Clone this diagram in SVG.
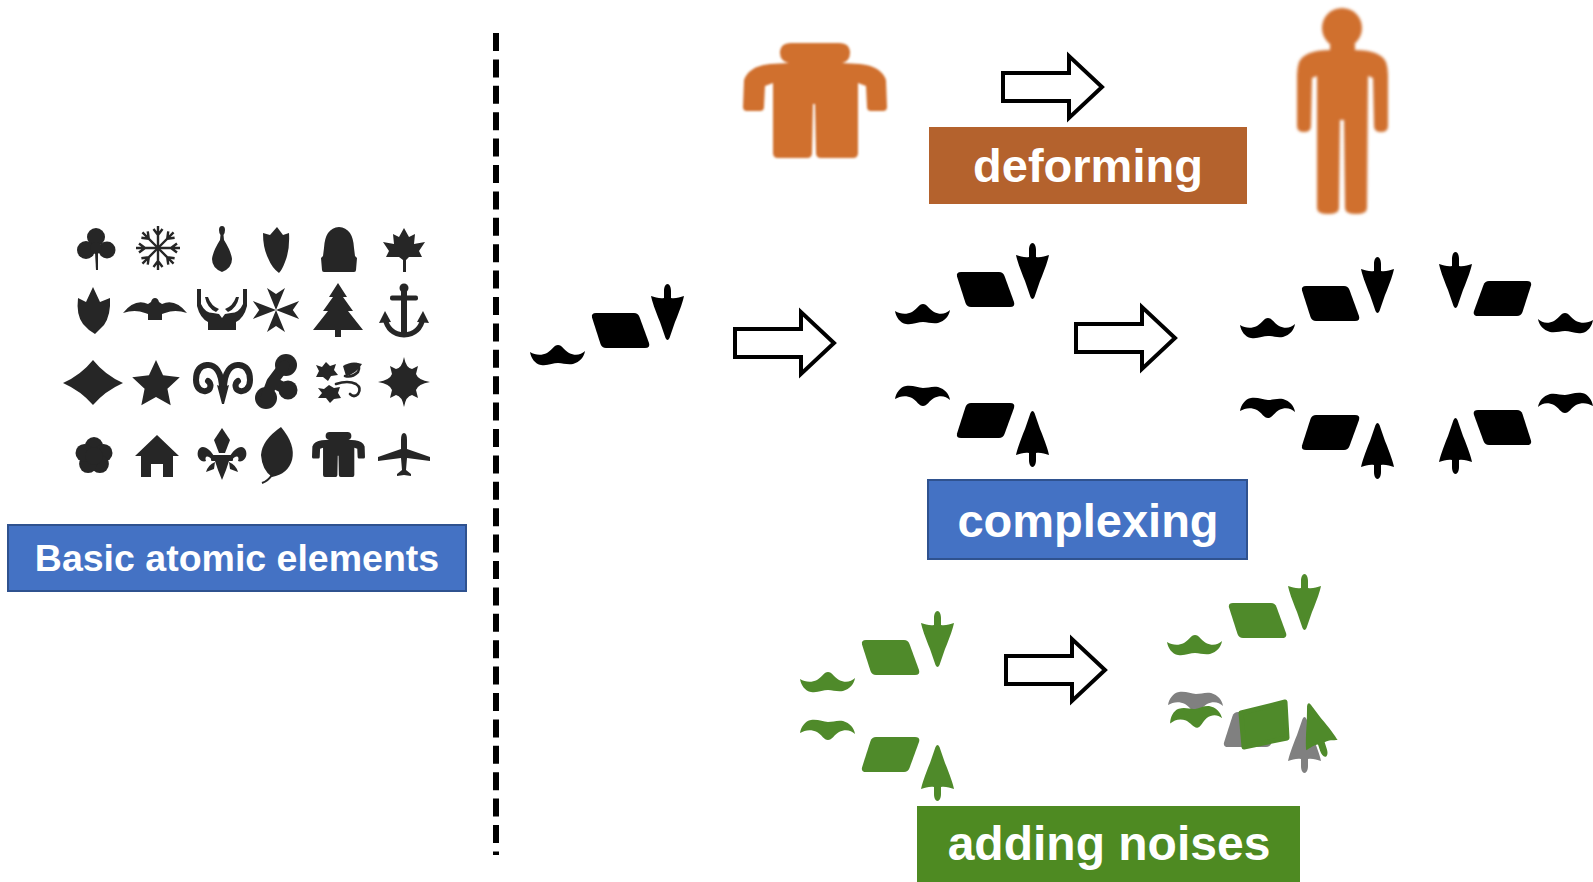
<svg xmlns="http://www.w3.org/2000/svg" xmlns:xlink="http://www.w3.org/1999/xlink" width="1593" height="882" viewBox="0 0 1593 882">
  <style>
    .lbl { font-family: "Liberation Sans", Arial, sans-serif; font-weight: bold; fill: #ffffff; text-anchor: middle; }
    .icon { fill: #262626; }
    .icon-line { fill: none; stroke: #262626; }
    .blk { fill: #ffffff; stroke: #000000; stroke-width: 4; stroke-linejoin: miter; }
    .ink { fill: #000000; }
    .leafy { fill: #4f8a2a; }
    .grey { fill: #808080; }
    .skin { fill: #d0702e; }
  </style>
  <defs>
    <filter id="soft" x="-20%" y="-20%" width="140%" height="140%">
      <feGaussianBlur stdDeviation="1.3"/>
    </filter>
    <filter id="softer" x="-20%" y="-20%" width="140%" height="140%">
      <feGaussianBlur stdDeviation="1.8"/>
    </filter>
    <!-- hollow block arrow, origin at the tail centre -->
    <path id="blkArrow" d="M0,-14 H66 V-31 L99,0 L66,31 V14 H0 Z"/>
    <!-- parts of the three-piece motif -->
    <path id="mst" d="M10,92 C15,95 21,96 27,93 C32,90 34,85 38,85 C42,85 44,90 49,93 C55,96 61,95 65,91 C64,97 60,102 53,104 C47,105 43,103 38,103 C33,103 28,106 21,105 C15,104 11,98 10,92 Z"/>
    <path id="para" d="M76,53 H114 Q118,53 119.5,57 L129,83 Q130.5,88 125,88 H86 Q82,88 80.5,84 L72,57.5 Q71,53 76,53 Z"/>
    <path id="arw" d="M147.5,24 C149.5,24 151,27 151,31 L151,38 C155,39 160,37 164,36 C163,41 160,50 155,62 L149.5,78 Q147.5,82 145.5,78 L140,62 C135,50 132,41 131,36 C135,37 140,39 144,38 L144,31 C144,27 145.5,24 147.5,24 Z"/>
    <g id="motif">
      <use xlink:href="#mst"/>
      <use xlink:href="#para"/>
      <use xlink:href="#arw"/>
    </g>
    <!-- stocky figure outline, reused for the jacket icon -->
    <path id="stocky" d="M791,43 H839 Q850,43 850,53 Q850,61 842,63 L860,64 Q881,66 886,80 L887,107 Q887,111 883,111 L871,111 Q867,111 867,107 L866,86 L858,83 L858,153 Q858,158 853,158 L821,158 Q816,158 816,153 L815,104 L813,104 L812,153 Q812,158 807,158 L778,158 Q773,158 773,153 L773,83 L765,86 L764,107 Q764,111 760,111 L747,111 Q743,111 743,107 L744,80 Q749,66 770,64 L789,63 Q780,61 780,53 Q780,43 791,43 Z"/>
    <path id="flakeArm" d="M0,0 L0,-22 M0,-13 L-4.5,-19 M0,-13 L4.5,-19"/>
    <path id="crossArm" d="M0,0 L-9,-22 L0,-16 L9,-22 Z"/>
  </defs>

  <rect width="1593" height="882" fill="#ffffff"/>

  <!-- separator -->
  <line id="divider" x1="496" y1="33" x2="496" y2="855" stroke="#000000" stroke-width="6" stroke-dasharray="18 8.4"/>

  <!-- catalogue of atomic shapes -->
  <g id="atomic-elements">
    <!-- row 1 -->
    <g id="clover" class="icon">
      <circle cx="96" cy="237" r="9"/>
      <circle cx="86" cy="250" r="9"/>
      <circle cx="107" cy="250" r="8.5"/>
      <circle cx="96" cy="248" r="6"/>
      <path d="M95,252 L98,252 L98,270 L96,270 Z"/>
    </g>
    <g id="snowflake" class="icon-line" stroke-width="2.4" transform="translate(158,248)">
      <use xlink:href="#flakeArm"/>
      <use xlink:href="#flakeArm" transform="rotate(45)"/>
      <use xlink:href="#flakeArm" transform="rotate(90)"/>
      <use xlink:href="#flakeArm" transform="rotate(135)"/>
      <use xlink:href="#flakeArm" transform="rotate(180)"/>
      <use xlink:href="#flakeArm" transform="rotate(225)"/>
      <use xlink:href="#flakeArm" transform="rotate(270)"/>
      <use xlink:href="#flakeArm" transform="rotate(315)"/>
    </g>
    <path id="pendant" class="icon" d="M222,226 Q225,226 225,230 Q225,233 223.5,235 L224,240 Q231,251 232,259 Q232,268 222,272 Q212,268 212,259 Q213,251 220,240 L220.5,235 Q219,233 219,230 Q219,226 222,226 Z"/>
    <path id="shield-leaf" class="icon" d="M277,227 L283,235 L289,233 Q290,250 285,262 Q282,270 279,273 Q272,268 268,258 Q263,248 263,233 L270,235 Z"/>
    <path id="bell" class="icon" d="M339,227 Q353,228 354,248 L355,256 L357,258 L356,270 Q356,272 354,272 L324,272 Q322,272 322,270 L321,258 L323,256 L324,248 Q325,228 339,227 Z"/>
    <polygon id="maple" class="icon" points="404,228 409,237 415,234 414,244 425,242 419,251 422,257 409,257 406,260 406,272 403,272 403,260 399,257 386,257 389,251 383,242 394,244 393,234 399,237"/>

    <!-- row 2 -->
    <path id="tulip-shield" class="icon" d="M78,298 L86,302 L93,287 L100,302 L110,298 Q111,315 104,325 Q99,330 95,334 Q88,330 83,324 Q76,315 78,298 Z"/>
    <path id="bird" class="icon" d="M155,298 Q158,298 159,302 L162,304 Q175,298 187,313 Q175,309 165,313 L162,314 L162,320 L148,320 L148,314 L145,313 Q135,309 123,313 Q135,298 148,304 L151,302 Q152,298 155,298 Z"/>
    <g id="hands" class="icon">
      <path d="M197,289 L201,289 L201,304 Q205,313 213,313 L219,314 L222,318 L225,314 L231,313 Q239,313 243,304 L243,289 L247,289 L247,306 Q244,318 236,322 L236,330 L208,330 L208,322 Q200,318 197,306 Z"/>
      <path d="M205,297 L208,297 Q211,306 219,309 L216,312 Q207,308 205,297 Z"/>
      <path d="M239,297 L236,297 Q233,306 225,309 L228,312 Q237,308 239,297 Z"/>
    </g>
    <g id="maltese-cross" class="icon" transform="translate(276,310)">
      <use xlink:href="#crossArm"/>
      <use xlink:href="#crossArm" transform="rotate(90) scale(1,1.05)"/>
      <use xlink:href="#crossArm" transform="rotate(180)"/>
      <use xlink:href="#crossArm" transform="rotate(270) scale(1,1.05)"/>
    </g>
    <polygon id="pine" class="icon" points="338,283 347,297 343,297 353,311 348,311 363,330 341,330 341,337 335,337 335,330 313,330 328,311 323,311 333,297 329,297"/>
    <g id="anchor" class="icon">
      <circle cx="404" cy="288" r="4.5"/>
      <rect x="390" y="295.5" width="28" height="5" rx="2"/>
      <rect x="401" y="288" width="6" height="45"/>
      <path d="M385,318 Q388,334 404,335 Q420,334 423,318" fill="none" stroke="#262626" stroke-width="5"/>
      <polygon points="379,323 385,311 391,322"/>
      <polygon points="429,323 423,311 417,322"/>
    </g>

    <!-- row 3 -->
    <path id="diamond" class="icon" d="M63,383 Q81,375 93,360 Q105,375 123,383 Q105,391 93,405 Q81,391 63,383 Z"/>
    <polygon id="star" class="icon" points="156,360 163.05,375.29 179.78,377.27 167.41,388.71 170.69,405.23 156,397 141.31,405.23 144.59,388.71 132.22,377.27 148.95,375.29"/>
    <g id="ram" class="icon">
      <path d="M222,389 C222,372 215,364 207,365 C198,366 196,373 196,380 C196,388 201,392 206,391 C211,390 212,384 208,381" fill="none" stroke="#262626" stroke-width="6" stroke-linecap="round"/>
      <path d="M224,389 C224,372 231,364 239,365 C248,366 250,373 250,380 C250,388 245,392 240,391 C235,390 234,384 238,381" fill="none" stroke="#262626" stroke-width="6" stroke-linecap="round"/>
      <path d="M217,385 Q223,388 229,385 L224,404 L222,404 Z"/>
    </g>
    <g id="triskele" class="icon">
      <circle cx="286" cy="365" r="11"/>
      <circle cx="288" cy="390" r="9.5"/>
      <circle cx="266" cy="398" r="11"/>
      <path d="M284,366 L272,382 L266,398 M272,382 L288,390" fill="none" stroke="#262626" stroke-width="11" stroke-linecap="round" stroke-linejoin="round"/>
    </g>
    <g id="ivy" class="icon">
      <polygon points="326,362 330,366 336,364 334,370 338,375 331,376 328,381 323,377 316,377 319,371 316,365 322,367"/>
      <polygon points="329,385 334,388 340,387 338,393 341,398 334,399 330,403 326,398 318,398 322,393 318,388 324,389"/>
      <path d="M343,366 Q352,360 362,364 Q356,374 346,376 Z"/>
      <path d="M336,384 Q348,380 356,384 Q362,388 358,394 Q354,398 350,394 M345,376 Q352,378 358,372 Q361,366 356,364" fill="none" stroke="#262626" stroke-width="2.6" stroke-linecap="round"/>
    </g>
    <path id="compass-star" class="icon" d="M404,357 Q406,368 412,369 L418,366 L416,374 Q418,380 430,382 Q418,384 416,390 L418,398 L412,395 Q406,396 404,407 Q402,396 396,395 L390,398 L392,390 Q390,384 378,382 Q390,380 392,374 L390,366 L396,369 Q402,368 404,357 Z"/>

    <!-- row 4 -->
    <g id="flower" class="icon">
      <circle cx="94" cy="446" r="9"/>
      <circle cx="103.5" cy="452.9" r="9"/>
      <circle cx="99.9" cy="464.1" r="9"/>
      <circle cx="88.1" cy="464.1" r="9"/>
      <circle cx="84.5" cy="452.9" r="9"/>
      <circle cx="94" cy="456" r="9"/>
    </g>
    <polygon id="house" class="icon" points="157,435 179,456 173,456 173,477 163,477 163,464 151,464 151,477 141,477 141,456 135,456"/>
    <g id="fleur-de-lis" class="icon">
      <path d="M222,428 L230,440 L225,453 L219,453 L214,440 Z"/>
      <path d="M215,458 C210,448 201,443 198,451 C196,458 202,463 206,461 C204,456 208,454 213,461 Z"/>
      <path d="M229,458 C234,448 243,443 246,451 C248,458 242,463 238,461 C240,456 236,454 231,461 Z"/>
      <rect x="211" y="455" width="22" height="6" rx="1"/>
      <path d="M215,461 L229,461 L226,470 L222,480 L218,470 Z"/>
      <path d="M215,462 Q208,465 206,472 L214,469 Z"/>
      <path d="M229,462 Q236,465 238,472 L230,469 Z"/>
    </g>
    <g id="leaf" class="icon">
      <path d="M281,427 Q296,445 292,460 Q288,474 272,477 Q262,470 261,455 Q262,440 281,427 Z"/>
      <path d="M272,475 Q268,481 262,483" fill="none" stroke="#262626" stroke-width="2.2"/>
    </g>
    <use id="jacket" xlink:href="#stocky" class="icon" transform="translate(312,432) scale(0.368,0.391) translate(-743,-43)"/>
    <path id="airplane" class="icon" d="M404,433 Q407,433 407,440 L407,449 L430,457 L430,461 L407,458 L406,470 L411,474 L411,476 L404,475 L397,476 L397,474 L402,470 L401,458 L378,461 L378,457 L401,449 L401,440 Q401,433 404,433 Z"/>
  </g>

  <!-- caption of the catalogue -->
  <g id="label-basic">
    <rect x="8" y="525" width="458" height="66" fill="#4472c4" stroke="#2f528f" stroke-width="2"/>
    <text class="lbl" x="237" y="571" font-size="37.5">Basic atomic elements</text>
  </g>

  <!-- deforming -->
  <g id="figure-stocky" class="skin" filter="url(#soft)">
    <use xlink:href="#stocky"/>
  </g>
  <g id="figure-tall" class="skin" filter="url(#softer)">
    <ellipse cx="1342" cy="28" rx="20" ry="20"/>
    <path d="M1330,44 L1330,50 Q1305,50 1299,62 Q1297,68 1297,75 L1297,126 Q1297,132 1304,132 Q1311,132 1311,126 L1312,78 L1317,76 L1317,208 Q1317,214 1328,214 Q1339,214 1339,208 L1340,120 L1344,120 L1345,208 Q1345,214 1356,214 Q1367,214 1367,208 L1368,76 L1373,78 L1374,126 Q1374,132 1381,132 Q1388,132 1388,126 L1388,75 Q1388,68 1386,62 Q1380,50 1355,50 L1355,44 Z"/>
  </g>
  <g id="label-deforming">
    <rect x="929" y="127" width="318" height="77" fill="#b4622d"/>
    <text class="lbl" x="1088" y="182" font-size="47">deforming</text>
  </g>

  <!-- complexing -->
  <g id="motif-single" class="ink">
    <use xlink:href="#motif" transform="translate(520,260)"/>
  </g>
  <g id="motif-pair" class="ink">
    <use xlink:href="#motif" transform="translate(885,219)"/>
    <use xlink:href="#motif" transform="translate(885,491) scale(1,-1)"/>
  </g>
  <g id="motif-quad" class="ink">
    <use xlink:href="#motif" transform="translate(1230,233)"/>
    <use xlink:href="#motif" transform="translate(1230,503) scale(1,-1)"/>
    <use xlink:href="#motif" transform="translate(1603,228) scale(-1,1)"/>
    <use xlink:href="#motif" transform="translate(1603,498) scale(-1,-1)"/>
  </g>
  <g id="label-complexing">
    <rect x="928" y="480" width="319" height="79" fill="#4472c4" stroke="#2f528f" stroke-width="2"/>
    <text class="lbl" x="1088" y="537" font-size="47">complexing</text>
  </g>

  <!-- adding noises -->
  <g id="motif-clean" class="leafy">
    <use xlink:href="#motif" transform="translate(790,587)"/>
    <use xlink:href="#motif" transform="translate(790,825) scale(1,-1)"/>
  </g>
  <g id="motif-noisy">
    <use xlink:href="#motif" class="leafy" transform="translate(1157,550)"/>
    <use xlink:href="#mst" class="grey" transform="translate(1158,797) scale(1,-1)"/>
    <use xlink:href="#mst" class="leafy" transform="rotate(-7 1196 717) translate(1160,817) scale(0.95,-1.05)"/>
    <use xlink:href="#para" class="grey" transform="translate(1152,800) scale(1,-1)"/>
    <polygon class="leafy" points="1241,713 1285,702 1287,738 1244,747" stroke="#4f8a2a" stroke-width="5" stroke-linejoin="round"/>
    <use xlink:href="#arw" class="grey" transform="translate(1157,797) scale(1,-1)"/>
    <use xlink:href="#arw" class="leafy" transform="translate(1317,730) rotate(-18) scale(1,-1) translate(-147.5,-52)"/>
  </g>
  <g id="label-noises">
    <rect x="917" y="806" width="383" height="76" fill="#4e8a22"/>
    <text class="lbl" x="1109" y="860" font-size="48">adding noises</text>
  </g>

  <!-- transformation arrows -->
  <g id="connectors" class="blk">
    <use xlink:href="#blkArrow" transform="translate(1003,87)"/>
    <use xlink:href="#blkArrow" transform="translate(735,343)"/>
    <use xlink:href="#blkArrow" transform="translate(1076,338)"/>
    <use xlink:href="#blkArrow" transform="translate(1006,670)"/>
  </g>
</svg>
